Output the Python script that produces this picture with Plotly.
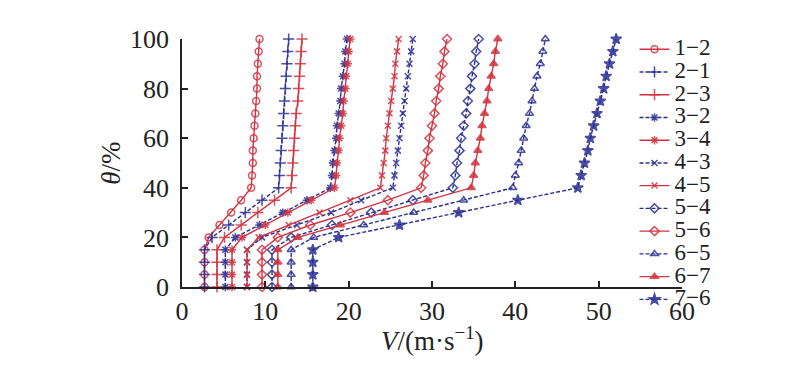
import plotly.graph_objects as go

theta = [0, 5, 10, 15, 20, 25, 30, 35, 40, 45, 50, 55, 60, 65, 70, 75, 80, 85, 90, 95, 100]

names = ["1−2", "2−1", "2−3", "3−2", "3−4", "4−3", "4−5", "5−4", "5−6", "6−5", "6−7", "7−6"]

v_1_2 = [2.7, 2.7, 2.7, 2.7, 3.2, 4.5, 5.9, 7.1, 8.3, 8.4, 8.5, 8.5, 8.6, 8.7, 8.8, 8.9, 9.0, 9.0, 9.1, 9.2, 9.3]
v_2_1 = [2.7, 2.7, 2.7, 2.7, 3.6, 5.6, 7.6, 9.6, 11.6, 11.7, 11.8, 11.9, 12.0, 12.1, 12.2, 12.3, 12.4, 12.5, 12.6, 12.7, 12.8]
v_2_3 = [4.2, 4.2, 4.2, 4.2, 5.1, 7.1, 9.1, 11.1, 13.1, 13.2, 13.3, 13.4, 13.5, 13.6, 13.7, 13.9, 14.0, 14.1, 14.2, 14.3, 14.4]
v_3_2 = [5.2, 5.2, 5.2, 5.2, 6.4, 9.3, 12.1, 15.0, 17.8, 18.0, 18.1, 18.3, 18.5, 18.6, 18.8, 19.0, 19.1, 19.3, 19.5, 19.6, 19.8]
v_3_4 = [6.0, 6.0, 6.0, 6.0, 7.2, 10.0, 12.7, 15.5, 18.3, 18.5, 18.6, 18.8, 18.9, 19.1, 19.3, 19.4, 19.6, 19.7, 19.9, 20.0, 20.2]
v_4_3 = [7.8, 7.8, 7.8, 7.8, 9.6, 13.8, 17.9, 21.5, 25.3, 25.5, 25.7, 25.9, 26.1, 26.3, 26.5, 26.7, 26.9, 27.1, 27.3, 27.5, 27.7]
v_4_5 = [7.8, 7.8, 7.8, 7.8, 9.2, 12.8, 16.5, 20.2, 23.8, 24.0, 24.2, 24.4, 24.5, 24.7, 24.9, 25.1, 25.3, 25.5, 25.6, 25.8, 26.0]
v_5_4 = [10.8, 10.8, 10.8, 10.8, 13.1, 18.0, 22.7, 27.7, 32.5, 32.8, 33.0, 33.3, 33.5, 33.8, 34.1, 34.3, 34.6, 34.8, 35.1, 35.3, 35.6]
v_5_6 = [9.6, 9.6, 9.6, 9.6, 11.5, 15.4, 20.2, 24.7, 28.7, 29.0, 29.2, 29.5, 29.7, 30.0, 30.3, 30.5, 30.8, 31.0, 31.3, 31.5, 31.8]
v_6_5 = [13.1, 13.1, 13.1, 13.1, 15.8, 21.8, 27.8, 33.8, 39.7, 40.0, 40.4, 40.7, 41.0, 41.3, 41.7, 42.0, 42.3, 42.6, 43.0, 43.3, 43.6]
v_6_7 = [11.5, 11.5, 11.5, 11.5, 13.9, 19.0, 24.3, 29.5, 34.7, 35.0, 35.2, 35.5, 35.8, 36.0, 36.3, 36.6, 36.8, 37.1, 37.4, 37.6, 37.9]
v_7_6 = [15.7, 15.7, 15.7, 15.7, 18.8, 26.1, 33.2, 40.3, 47.5, 47.9, 48.3, 48.7, 49.0, 49.4, 49.8, 50.2, 50.6, 50.9, 51.3, 51.7, 52.1]

series = [v_1_2, v_2_1, v_2_3, v_3_2, v_3_4, v_4_3, v_4_5, v_5_4, v_5_6, v_6_5, v_6_7, v_7_6]

RED = "#d2323f"
BLUE = "#2b2f93"
styles = [
    (RED, "solid", "circle-open", 7),
    (BLUE, "4px,2px", "cross-thin-open", 8),
    (RED, "solid", "cross-thin-open", 8),
    (BLUE, "4px,2px", "asterisk-open", 7),
    (RED, "solid", "asterisk-open", 7),
    (BLUE, "4px,2px", "x-thin-open", 6),
    (RED, "solid", "x-thin-open", 6),
    (BLUE, "4px,2px", "diamond-open", 7),
    (RED, "solid", "diamond-open", 7),
    (BLUE, "4px,2px", "triangle-up-open", 7),
    (RED, "solid", "triangle-up", 7),
    (BLUE, "4px,2px", "star", 8),
]

FONT = "Liberation Serif, Times New Roman, serif"
OFF = 8  # default page body margin

fig = go.Figure()
for i, (name, vals, (col, dash, sym, size)) in enumerate(zip(names, series, styles)):
    fig.add_trace(go.Scatter(
        x=vals, y=theta,
        name='<span style="font-size:23px">' + name + '</span>',
        legend="legend" if i < 6 else "legend2",
        mode="lines+markers",
        line=dict(color=col, width=1.4, dash=dash),
        marker=dict(symbol=sym, size=size, color=col,
                    line=dict(color=col, width=1.5), opacity=0.85),
        cliponaxis=False,
    ))

leg_common = dict(xanchor="left", yanchor="top", bgcolor="rgba(0,0,0,0)",
                  font=dict(family=FONT, size=15.2, color="#222"),
                  itemwidth=30, tracegroupgap=0, borderwidth=0)

fig.update_layout(
    width=800 - OFF, height=365 - OFF,
    margin=dict(l=182 - OFF, r=118, t=39 - OFF, b=78),
    paper_bgcolor="white", plot_bgcolor="white",
    font=dict(family=FONT, size=26, color="#222"),
    showlegend=True,
    legend=dict(x=0.905, y=1.025, **leg_common),
    legend2=dict(x=0.905, y=0.475, **leg_common),
    xaxis=dict(range=[0, 60], tickvals=[0, 10, 20, 30, 40, 50, 60],
               showline=True, linecolor="#222", linewidth=1.5,
               ticks="inside", ticklen=6, tickcolor="#222", tickwidth=1.5,
               showgrid=False, zeroline=False, automargin=False,
               tickfont=dict(family=FONT, size=26)),
    yaxis=dict(range=[0, 100], tickvals=[0, 20, 40, 60, 80, 100],
               showline=True, linecolor="#222", linewidth=1.5,
               ticks="inside", ticklen=6, tickcolor="#222", tickwidth=1.5,
               showgrid=False, zeroline=False, automargin=False,
               ticklabelstandoff=6,
               tickfont=dict(family=FONT, size=26),
               title=dict(text="<i>θ</i>/%", standoff=2,
                          font=dict(family=FONT, size=27))),
    annotations=[dict(text="<i>V</i>/(m·s<sup>−1</sup>)", xref="paper", yref="paper",
                      x=0.5, y=-0.21, xanchor="center", yanchor="middle",
                      showarrow=False, font=dict(family=FONT, size=27, color="#222"))],
)

fig.write_html("out.html")
